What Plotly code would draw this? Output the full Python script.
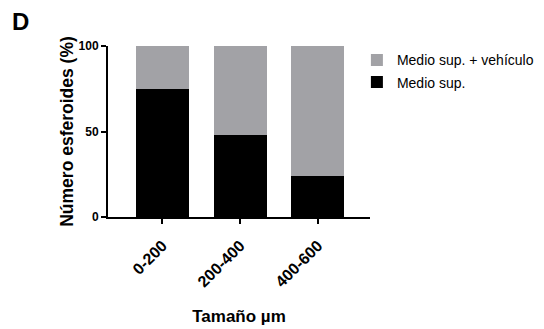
import plotly.graph_objects as go

categories = ["0-200", "200-400", "400-600"]
medio_sup = [75, 48, 24]
medio_sup_vehiculo = [25, 52, 76]

FONT = "Liberation Sans, Arial, sans-serif"

# page body has an 8px margin, so the figure is drawn slightly smaller and offset
W, H = 536, 321
L, T, PW, PH = 100, 38, 262, 171

fig = go.Figure()
fig.add_trace(go.Bar(x=categories, y=medio_sup, name="Medio sup.", legendgroup="a",
                     legendrank=2,
                     marker=dict(color="#000000", line=dict(width=0)), width=0.68))
fig.add_trace(go.Bar(x=categories, y=medio_sup_vehiculo, name="Medio sup. + vehículo",
                     legendgroup="b", legendrank=1,
                     marker=dict(color="#A2A2A6", line=dict(width=0)), width=0.68))

fig.update_layout(
    width=W, height=H,
    margin=dict(l=L, r=W - L - PW, t=T, b=H - T - PH, autoexpand=False),
    barmode="stack",
    plot_bgcolor="white", paper_bgcolor="white",
    font=dict(family=FONT, color="#000000"),
    showlegend=True,
    legend=dict(x=0.95, y=1.01, xanchor="left", yanchor="top",
                font=dict(family=FONT, size=14, color="#000000"),
                tracegroupgap=1, itemwidth=30, traceorder="grouped"),
    xaxis=dict(range=[-0.7, 2.67], showline=True, linecolor="black", linewidth=2,
               ticks="outside", ticklen=5, tickwidth=2, tickcolor="black",
               tickangle=-45, automargin=False, ticklabelstandoff=6,
               tickfont=dict(family=FONT, size=16, color="black", weight="bold"),
               title=dict(text="<b>Tamaño µm</b>", font=dict(family=FONT, size=17), standoff=21),
               showgrid=False, zeroline=False),
    yaxis=dict(range=[0, 100], showline=True, linecolor="black", linewidth=2,
               ticks="outside", ticklen=5, tickwidth=2, tickcolor="black",
               tickvals=[0, 50, 100], automargin=False,
               tickfont=dict(family=FONT, size=12, color="black", weight="bold"),
               title=dict(text="<b>Número esferoides (%)</b>", font=dict(family=FONT, size=17.5), standoff=0),
               showgrid=False, zeroline=False),
    annotations=[dict(text="<b>D</b>", x=(2 - L) / PW, y=1 + (T - 13) / PH,
                      xref="paper", yref="paper", xanchor="left", yanchor="middle",
                      showarrow=False, font=dict(family=FONT, size=24, color="black"))],
)

fig.write_html("out.html")
